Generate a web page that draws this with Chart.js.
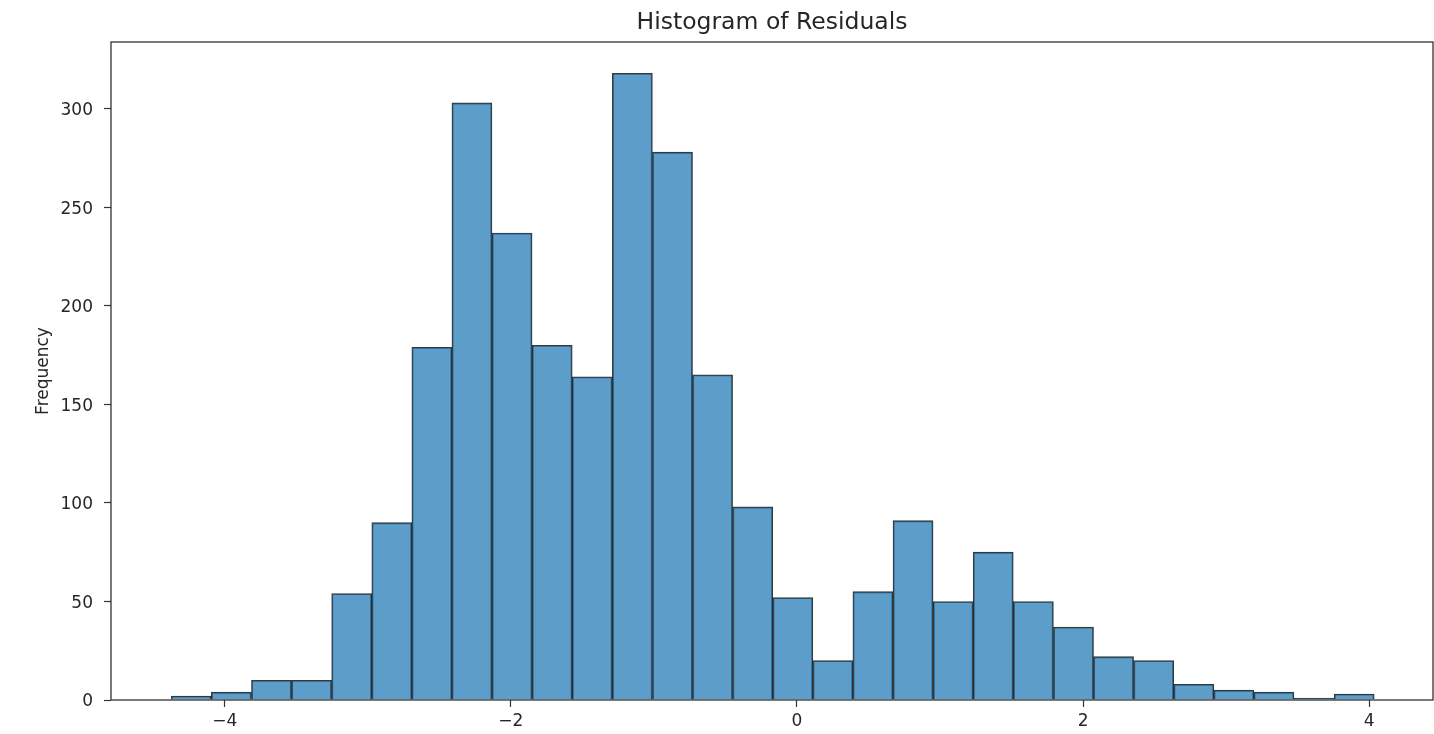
<!DOCTYPE html>
<html>
<head>
<meta charset="utf-8">
<script src="https://cdn.jsdelivr.net/npm/chart.js@4/dist/chart.umd.min.js"></script>
<style>
  html, body { margin: 0; padding: 0; background: #ffffff; }
  #wrap { width: 1434px; height: 734px; }
</style>
</head>
<body>
<div id="wrap"><canvas id="c" width="1434" height="734"></canvas></div>
<script>
// Bin edges of the residual histogram (30 bins)
const binEdges = [-4.374, -4.094, -3.813, -3.533, -3.253, -2.972, -2.692, -2.412, -2.132, -1.851,
                  -1.571, -1.291, -1.010, -0.730, -0.450, -0.169, 0.111, 0.391, 0.671, 0.952,
                  1.232, 1.512, 1.793, 2.073, 2.353, 2.634, 2.914, 3.194, 3.474, 3.755, 4.035];
// Frequency of each bin
const counts = [2, 4, 10, 10, 54, 90, 179, 303, 237, 180,
                164, 318, 278, 165, 98, 52, 20, 55, 91, 50,
                75, 50, 37, 22, 20, 8, 5, 4, 1, 3];
const xTicks = [-4, -2, 0, 2, 4];
const yTicks = [0, 50, 100, 150, 200, 250, 300];
const titleText = 'Histogram of Residuals';
const yLabel = 'Frequency';

const points = counts.map((c, i) => ({ x: (binEdges[i] + binEdges[i + 1]) / 2, y: c }));
const xMin = -4.795, xMax = 4.446, yMax = 333.9;

const FONT = "'DejaVu Sans', sans-serif";
const TXT = '#262626';

const framePlugin = {
  id: 'frame',
  afterDatasetsDraw(chart) {
    const a = chart.chartArea, ctx = chart.ctx;
    ctx.save();
    ctx.strokeStyle = '#333333';
    ctx.lineWidth = 1.3;
    ctx.strokeRect(a.left, a.top, a.right - a.left, a.bottom - a.top);
    ctx.restore();
  }
};

new Chart(document.getElementById('c'), {
  type: 'bar',
  data: {
    datasets: [{
      data: points,
      xAxisID: 'x',
      yAxisID: 'y',
      backgroundColor: 'rgba(31,119,180,0.72)',
      borderColor: 'rgba(0,0,0,0.78)',
      borderWidth: 1.2,
      borderSkipped: 'start',
      barPercentage: 1.0,
      categoryPercentage: 1.0
    }]
  },
  options: {
    responsive: false,
    animation: false,
    devicePixelRatio: 1,
    layout: { padding: { left: 0, right: 1, top: 0, bottom: 0 } },
    plugins: {
      legend: { display: false },
      tooltip: { enabled: false },
      title: { display: false }
    },
    scales: {
      x: {
        type: 'linear',
        position: 'bottom',
        min: xMin,
        max: xMax,
        offset: false,
        afterFit(s) { s.height = 34; },
        afterBuildTicks(s) { s.ticks = xTicks.map(v => ({ value: v })); },
        grid: { display: true, drawOnChartArea: false, drawTicks: true, tickLength: 7, tickColor: '#333', tickWidth: 1.2, offset: false },
        border: { display: false },
        ticks: {
          color: TXT,
          font: { family: FONT, size: 17, lineHeight: 1.2 },
          padding: 4,
          maxRotation: 0,
          autoSkip: false,
          callback: v => (v < 0 ? '\u2212' + Math.abs(v) : String(v))
        }
      },
      xTop: {
        type: 'linear',
        position: 'top',
        min: 0,
        max: 1,
        offset: false,
        afterFit(s) { s.height = 42; },
        grid: { display: false },
        border: { display: false },
        ticks: { display: false },
        title: {
          display: true,
          text: titleText,
          color: TXT,
          font: { family: FONT, size: 23.5, weight: 'normal', lineHeight: 1.2 },
          padding: { top: 8.5, bottom: 0 }
        }
      },
      y: {
        type: 'linear',
        min: 0,
        max: yMax,
        afterFit(s) { s.width = 111; },
        afterBuildTicks(s) { s.ticks = yTicks.map(v => ({ value: v })); },
        grid: { display: true, drawOnChartArea: false, drawTicks: true, tickLength: 7, tickColor: '#333', tickWidth: 1.2 },
        border: { display: false },
        ticks: {
          color: TXT,
          font: { family: FONT, size: 17, lineHeight: 1.2 },
          padding: 11,
          labelOffset: 2,
          autoSkip: false,
          callback: v => String(v)
        },
        title: {
          display: true,
          text: yLabel,
          color: TXT,
          font: { family: FONT, size: 17, lineHeight: 1.2 },
          padding: { top: 33, bottom: 0 }
        }
      }
    }
  },
  plugins: [framePlugin]
});
</script>
</body>
</html>
